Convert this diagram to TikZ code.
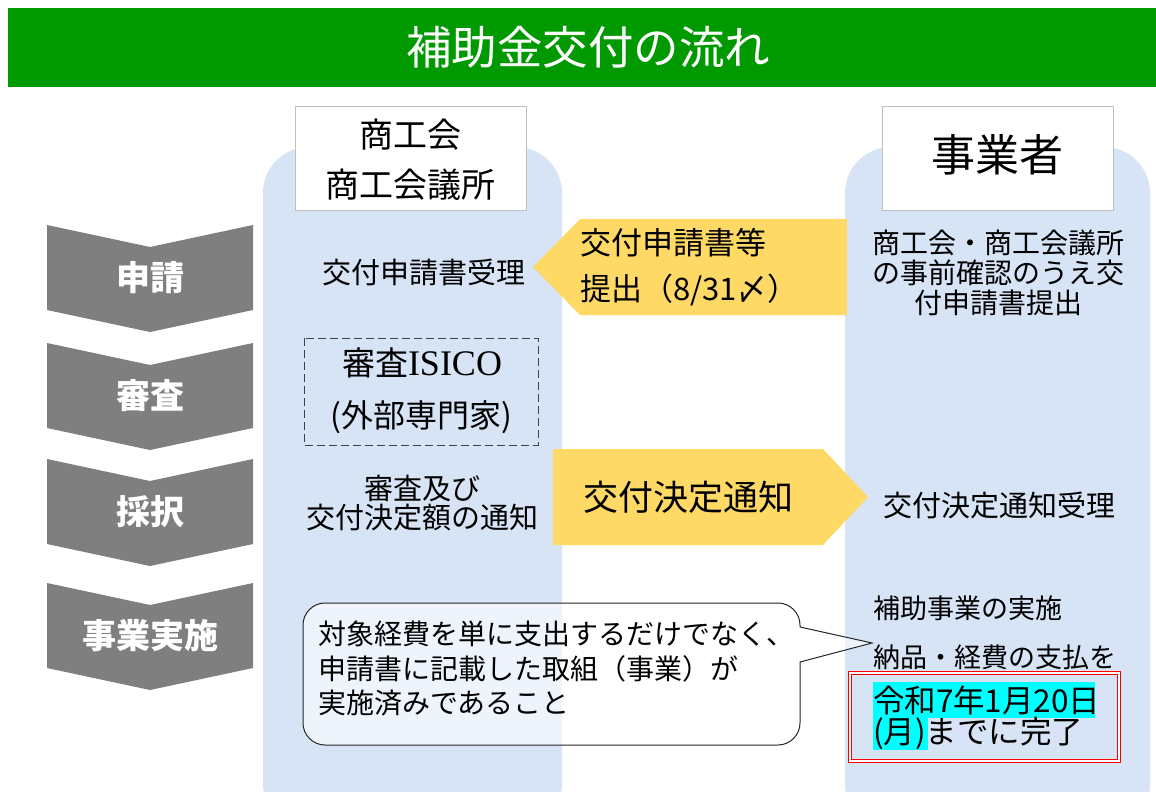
\documentclass[tikz,border=0pt]{standalone}
\usepackage{fontspec}
\setmainfont{Noto Sans CJK JP}
\newfontfamily\isicofont{Liberation Serif}
\definecolor{ttlgreen}{RGB}{0,153,0}
\definecolor{colblue}{RGB}{214,228,245}
\definecolor{chevgray}{RGB}{127,127,127}
\definecolor{ylw}{RGB}{255,217,102}
\definecolor{hlcyan}{RGB}{0,255,255}
\definecolor{boxgray}{RGB}{191,191,191}
\newcommand\fsz[2]{\fontsize{#1}{#2}\selectfont}
\tikzset{
  txt/.style={inner sep=0pt, outer sep=0pt, text=black},
  hdrbox/.style={draw=boxgray, line width=0.8pt, fill=white, inner sep=0pt},
  chevshape/.style={fill=chevgray},
  chevlbl/.style={inner sep=0pt, text=white, font=\fsz{34}{40}\bfseries},
  colbg/.style={fill=colblue, rounded corners=46pt},
  yarrow/.style={fill=ylw},
}
\begin{document}
\begin{tikzpicture}[x=1pt,y=-1pt]
\useasboundingbox (0,0) rectangle (1156,792);
\fill[white] (0,0) rectangle (1156,792);
% title
\fill[ttlgreen] (8,8) rectangle (1156,87);
\node[txt, text=white, font=\fsz{45.5}{50}] (title) at (588,47) {補助金交付の流れ};
% columns
\path[colbg] (263,147) rectangle (562,830);
\path[colbg] (845,147) rectangle (1150,830);
% header boxes
\node[hdrbox, minimum width=231pt, minimum height=104pt] (hdrL) at (410.5,158) {};
\node[txt, align=center, font=\fsz{34}{50}] (hdrLtxt) at (410.5,160) {商工会\\商工会議所};
\node[hdrbox, minimum width=231pt, minimum height=104pt] (hdrR) at (997.5,158) {};
\node[txt, font=\fsz{44}{50}] (hdrRtxt) at (997.5,155) {事業者};
% chevrons
\foreach \T/\lab/\nm in {225/申請/c1, 343/審査/c2, 459/採択/c3, 583/事業実施/c4}{
  \path[chevshape] (47,\T) -- (150,\T+22) -- (253,\T) -- (253,\T+85) -- (150,\T+107) -- (47,\T+85) -- cycle;
  \node[chevlbl] (\nm) at (150,\T+53) {\lab};
}
% row 1
\node[txt, font=\fsz{29}{34}] (juri) at (424,272) {交付申請書受理};
\path[yarrow] (533,267) -- (580,219) -- (847,219) -- (847,315) -- (580,315) -- cycle;
\node[txt, anchor=west, font=\fsz{31}{36}] (ya1) at (580,243) {交付申請書等};
\node[txt, anchor=west, font=\fsz{31}{36}] (ya2) at (580,290) {提出（8/31〆）};
\node[txt, align=center, font=\fsz{28}{30}] (jizen) at (998,273) {商工会・商工会議所\\の事前確認のうえ交\\付申請書提出};
% row 2
\draw[line width=1pt, draw=black!75, dash pattern=on 8pt off 4pt] (304,338) rectangle (538,445);
\node[txt, font=\fsz{33}{38}] (isico) at (422,363) {審査{\isicofont\fsz{36}{38}ISICO}};
\node[txt, font=\fsz{32}{38}] (gaibu) at (421,417) {(外部専門家)};
% row 3
\node[txt, align=center, font=\fsz{29}{29}] (tsuchi) at (422,503) {審査及び\\交付決定額の通知};
\path[yarrow] (553,449) -- (823,449) -- (868,497) -- (823,545) -- (553,545) -- cycle;
\node[txt, font=\fsz{35}{40}] (ya3) at (688,497) {交付決定通知};
\node[txt, font=\fsz{29}{34}] (ketteijuri) at (999,505) {交付決定通知受理};
% row 4
\node[txt, anchor=west, font=\fsz{27}{32}] (jisshi) at (873,608) {補助事業の実施};
\node[txt, anchor=west, font=\fsz{27}{32}] (nouhin) at (873,657) {納品・経費の支払を};
\fill[hlcyan] (873,682) rectangle (1095,718);
\fill[hlcyan] (873,718) rectangle (928,750);
\node[txt, anchor=west, font=\fsz{31.5}{38}] (date1) at (873,700) {令和7年1月20日};
\node[txt, anchor=west, font=\fsz{31.5}{38}] (date2) at (873,733) {(月)までに完了};
\draw[red, line width=1.1pt, double=white, double distance=1.6pt] (850,673) rectangle (1119,761);
% callout
\draw[black!85, line width=1pt, fill=white, fill opacity=0.6]
  (325,603) -- (778,603) .. controls (790,603) and (800,613) .. (800,625) -- (800,627)
  -- (872,643) -- (800,662) -- (800,723) .. controls (800,735) and (790,745) .. (778,745)
  -- (325,745) .. controls (313,745) and (303,735) .. (303,723) -- (303,625)
  .. controls (303,613) and (313,603) .. (325,603) -- cycle;
\node[txt, anchor=west, align=left, font=\fsz{28}{34.5}] (callout) at (318,668.5)
  {対象経費を単に支出するだけでなく、\\申請書に記載した取組（事業）が\\実施済みであること};
\end{tikzpicture}
\end{document}
